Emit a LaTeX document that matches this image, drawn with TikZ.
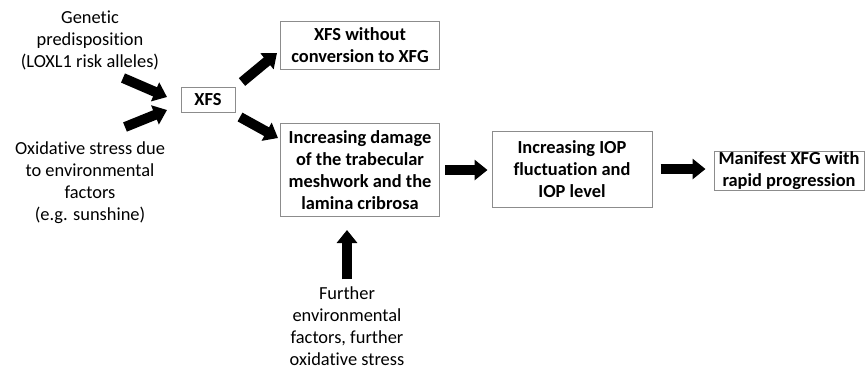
\documentclass[tikz,border=0pt]{standalone}
\usepackage{fontspec}
\setmainfont{Carlito}[Ligatures=NoCommon]
\usetikzlibrary{arrows.meta}

\tikzset{
  box/.style={draw=black!45, line width=0.5pt, align=center, font=\fontsize{9.2}{11}\selectfont\bfseries, inner sep=0pt},
  plain/.style={align=center},
  fat/.style={line width=5pt, -{Triangle[length=6.5pt,width=10pt]}},
}

\begin{document}
\begin{tikzpicture}[x=0.5pt,y=-0.5pt,font=\fontsize{9.2}{11}\selectfont]
\useasboundingbox (0,0) rectangle (868,372);

\node[plain] (genetic) at (90,40) {Genetic\\predisposition\\(LOXL1 risk alleles)};
\node[plain] (oxid) at (90,183) {Oxidative stress due\\to environmental\\factors\\(e.g. sunshine)};
\node[plain] (further) at (347,326) {Further\\environmental\\factors, further\\oxidative stress};

\node[box, minimum width=27pt, minimum height=12.5pt] (xfs) at (208,100) {XFS};
\node[box, minimum width=79.5pt, minimum height=24pt] (noconv) at (360,45) {XFS without\\conversion to XFG};
\node[box, minimum width=79.5pt, minimum height=46.5pt] (damage) at (360,170) {Increasing damage\\of the trabecular\\meshwork and the\\lamina cribrosa};
\node[box, minimum width=80pt, minimum height=38pt] (iop) at (572,169) {Increasing IOP\\fluctuation and\\IOP level};
\node[box, minimum width=75pt, minimum height=19.5pt] (xfg) at (789,171) {Manifest XFG with\\rapid progression};

\draw[fat] ([shift={(33,38)}]genetic.center) -- ([shift={(-41,-3)}]xfs.center);
\draw[fat] ([shift={(35,-56)}]oxid.center) -- ([shift={(-41,10)}]xfs.center);
\draw[fat] ([shift={(34,-18)}]xfs.center) -- ([shift={(-3,8)}]noconv.west);
\draw[fat] ([shift={(32,17)}]xfs.center) -- ([shift={(-2,-32)}]damage.west);
\draw[fat] ([shift={(5,0)}]damage.east) -- ([shift={(-4,1)}]iop.west);
\draw[fat] ([shift={(8,0)}]iop.east) -- ([shift={(-8,-2)}]xfg.west);
\draw[fat] (further.north) -- ([shift={(0,13)}]further.north |- damage.south);
\end{tikzpicture}
\end{document}
